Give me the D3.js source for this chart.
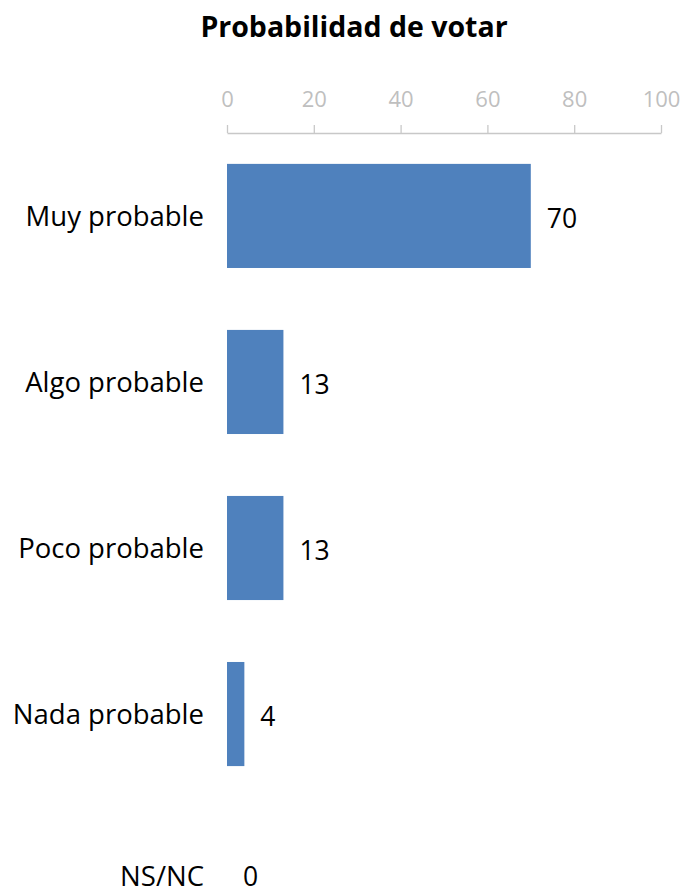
<!DOCTYPE html>
<html><head><meta charset="utf-8">
<script src="https://cdn.jsdelivr.net/npm/d3@7"></script>
<style>body{margin:0;background:#fff}svg{display:block;font-family:"Open Sans","Noto Sans",sans-serif}</style>
</head><body><svg id="c" width="683" height="895"></svg>
<script>
const categories = ["Muy probable","Algo probable","Poco probable","Nada probable","NS/NC"];
const values = [70, 13, 13, 4, 0];
const tickValues = [0,20,40,60,80,100];
const title = "Probabilidad de votar";

const H = 895;
const svg = d3.select("#c");
const x = d3.scaleLinear().domain([0,100]).range([227,661]);
const y = d3.scaleBand().domain(categories).range([133, 963]).paddingInner(0.373).paddingOuter(0.186);
const fit = v => Math.min(v, H - 9);

svg.append("text").attr("x",354).attr("y",37).attr("text-anchor","middle")
  .attr("font-weight","bold").attr("font-size",28.5).attr("fill","#000").text(title);

const ax = svg.append("g").attr("transform","translate(0,133)")
  .call(d3.axisTop(x).tickValues(tickValues).tickSize(8).tickPadding(18).tickSizeOuter(0));
ax.select(".domain").attr("stroke","#c8c8c8").attr("stroke-width",1.3);
ax.selectAll(".tick line").attr("stroke","#c8c8c8").attr("stroke-width",1.3);
ax.selectAll(".tick text").attr("fill","#bfbfbf").attr("font-size",22).attr("font-family","'Open Sans',sans-serif");

svg.append("g").selectAll("rect").data(values).join("rect")
  .attr("x",x(0)).attr("y",(d,i)=>y(categories[i]))
  .attr("width",d=>x(d)-x(0)).attr("height",y.bandwidth()).attr("fill","#4f81bd");

svg.append("g").selectAll("text").data(categories).join("text")
  .attr("x",204).attr("y",d=>fit(y(d)+y.bandwidth()/2+10)).attr("text-anchor","end")
  .attr("font-size",27.5).attr("fill","#000").text(d=>d);

svg.append("g").selectAll("text").data(values).join("text")
  .attr("x",d=>x(d)+16).attr("y",(d,i)=>fit(y(categories[i])+y.bandwidth()/2+12))
  .attr("font-size",26.5).attr("fill","#000").text(d=>d);
</script></body></html>
